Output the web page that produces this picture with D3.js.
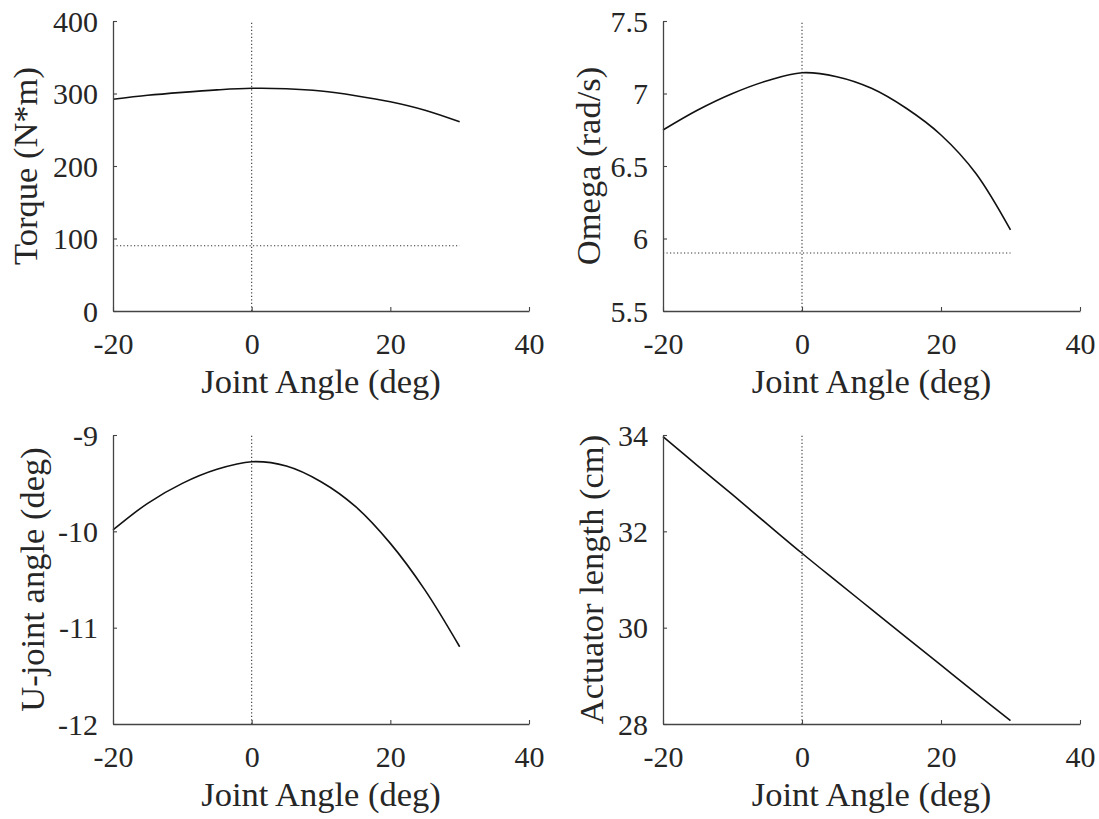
<!DOCTYPE html>
<html>
<head>
<meta charset="utf-8">
<script src="https://cdn.jsdelivr.net/npm/d3@7"></script>
<style>
  html, body { margin: 0; padding: 0; background: #ffffff; }
</style>
</head>
<body>
<svg id="chart" width="1099" height="819"></svg>
<script>
// ---------------- data ----------------
const jointAngle = [-20, -15, -10, -5, 0, 5, 10, 15, 20, 25, 30];
const torque     = [292, 297.5, 301.6, 305, 307.2, 306.6, 303.4, 297, 288.7, 277, 261];
const omega      = [6.748, 6.886, 7.0, 7.088, 7.143, 7.116, 7.036, 6.898, 6.714, 6.45, 6.059];
const uJoint     = [-9.986, -9.709, -9.502, -9.356, -9.277, -9.322, -9.485, -9.744, -10.125, -10.61, -11.198];
const actuator   = [33.965, 33.36, 32.76, 32.15, 31.545, 30.96, 30.38, 29.80, 29.22, 28.64, 28.07];

const xTicks = [-20, 0, 20, 40];
const xTickLabels = ["-20", "0", "20", "40"];
const torqueTicks = [0, 100, 200, 300, 400];
const torqueTickLabels = ["0", "100", "200", "300", "400"];
const omegaTicks = [5.5, 6, 6.5, 7, 7.5];
const omegaTickLabels = ["5.5", "6", "6.5", "7", "7.5"];
const uJointTicks = [-12, -11, -10, -9];
const uJointTickLabels = ["-12", "-11", "-10", "-9"];
const actuatorTicks = [28, 30, 32, 34];
const actuatorTickLabels = ["28", "30", "32", "34"];

const torqueLimit = 90;   // dotted horizontal reference
const omegaLimit = 5.9;   // dotted horizontal reference
const refAngle = 0;       // dotted vertical reference

const xLabel = "Joint Angle (deg)";
const yLabels = ["Torque (N*m)", "Omega (rad/s)", "U-joint angle (deg)", "Actuator length (cm)"];

// ---------------- layout ----------------
const panels = [
  { left: 113, top: 21,  w: 416, h: 290, y: torque,   yDom: [0, 400],   yT: torqueTicks,   yL: torqueTickLabels,   hLine: torqueLimit, lab: yLabels[0], labOff: 76 },
  { left: 663, top: 21,  w: 417, h: 290, y: omega,    yDom: [5.5, 7.5], yT: omegaTicks,    yL: omegaTickLabels,    hLine: omegaLimit,  lab: yLabels[1], labOff: 63 },
  { left: 113, top: 435, w: 416, h: 289, y: uJoint,   yDom: [-12, -9],  yT: uJointTicks,   yL: uJointTickLabels,   hLine: null,        lab: yLabels[2], labOff: 69 },
  { left: 663, top: 435, w: 417, h: 289, y: actuator, yDom: [28, 34],   yT: actuatorTicks, yL: actuatorTickLabels, hLine: null,        lab: yLabels[3], labOff: 60 }
];

const FONT = "'Liberation Serif', Tinos, 'Times New Roman', Times, 'DejaVu Serif', serif";
const svg = d3.select("#chart").attr("font-family", FONT);
const axisColor = "#444444";
const textColor = "#262626";
const tickFont = 30;
const labelFont = 34.5;

panels.forEach(p => {
  const g = svg.append("g").attr("transform", `translate(${p.left},${p.top})`);
  const x = d3.scaleLinear().domain([-20, 40]).range([0, p.w]);
  const y = d3.scaleLinear().domain(p.yDom).range([p.h, 0]);

  // reference dotted lines
  g.append("line")
    .attr("x1", x(refAngle)).attr("x2", x(refAngle))
    .attr("y1", y(p.yDom[0])).attr("y2", y(p.yDom[1]))
    .attr("stroke", "#333").attr("stroke-width", 1.1).attr("stroke-dasharray", "1.2,2.3");
  if (p.hLine !== null) {
    g.append("line")
      .attr("x1", x(jointAngle[0])).attr("x2", x(jointAngle[jointAngle.length - 1]))
      .attr("y1", y(p.hLine)).attr("y2", y(p.hLine))
      .attr("stroke", "#333").attr("stroke-width", 1.1).attr("stroke-dasharray", "1.2,2.3");
  }

  // data curve
  const line = d3.line()
    .x((d, i) => x(jointAngle[i]))
    .y(d => y(d))
    .curve(d3.curveCatmullRom.alpha(0.5));
  g.append("path").datum(p.y)
    .attr("d", line)
    .attr("fill", "none").attr("stroke", "#111").attr("stroke-width", 1.6);

  // x axis (ticks inward)
  const xa = g.append("g").attr("transform", `translate(0,${p.h})`)
    .call(d3.axisBottom(x).tickValues(xTicks).tickFormat((d, i) => xTickLabels[i])
      .tickSize(-4).tickSizeOuter(0).tickPadding(14));
  xa.attr("font-family", FONT);
  xa.select(".domain").attr("stroke", axisColor).attr("stroke-width", 1.3);
  xa.selectAll(".tick line").attr("stroke", axisColor).attr("stroke-width", 1.1);
  xa.selectAll(".tick text").attr("font-size", tickFont)
    .style("font-family", FONT)
    .attr("fill", textColor).attr("dy", "0.71em").attr("y", 22);

  // y axis (ticks inward)
  const ya = g.append("g")
    .call(d3.axisLeft(y).tickValues(p.yT).tickFormat((d, i) => p.yL[i])
      .tickSize(-4).tickSizeOuter(0).tickPadding(15));
  ya.attr("font-family", FONT);
  ya.select(".domain").attr("stroke", axisColor).attr("stroke-width", 1.3);
  ya.selectAll(".tick line").attr("stroke", axisColor).attr("stroke-width", 1.1);
  ya.selectAll(".tick text").attr("font-size", tickFont)
    .style("font-family", FONT)
    .attr("fill", textColor).attr("x", -15).attr("dy", "0.34em");

  // x label
  g.append("text")
    .attr("x", p.w / 2).attr("y", p.h + 82)
    .attr("text-anchor", "middle").attr("font-size", labelFont)
    .style("font-family", FONT).attr("fill", textColor)
    .text(xLabel);

  // y label
  g.append("text")
    .attr("transform", `translate(${-p.labOff},${p.h / 2}) rotate(-90)`)
    .attr("text-anchor", "middle").attr("font-size", labelFont)
    .style("font-family", FONT).attr("fill", textColor)
    .text(p.lab);
});
</script>
</body>
</html>
